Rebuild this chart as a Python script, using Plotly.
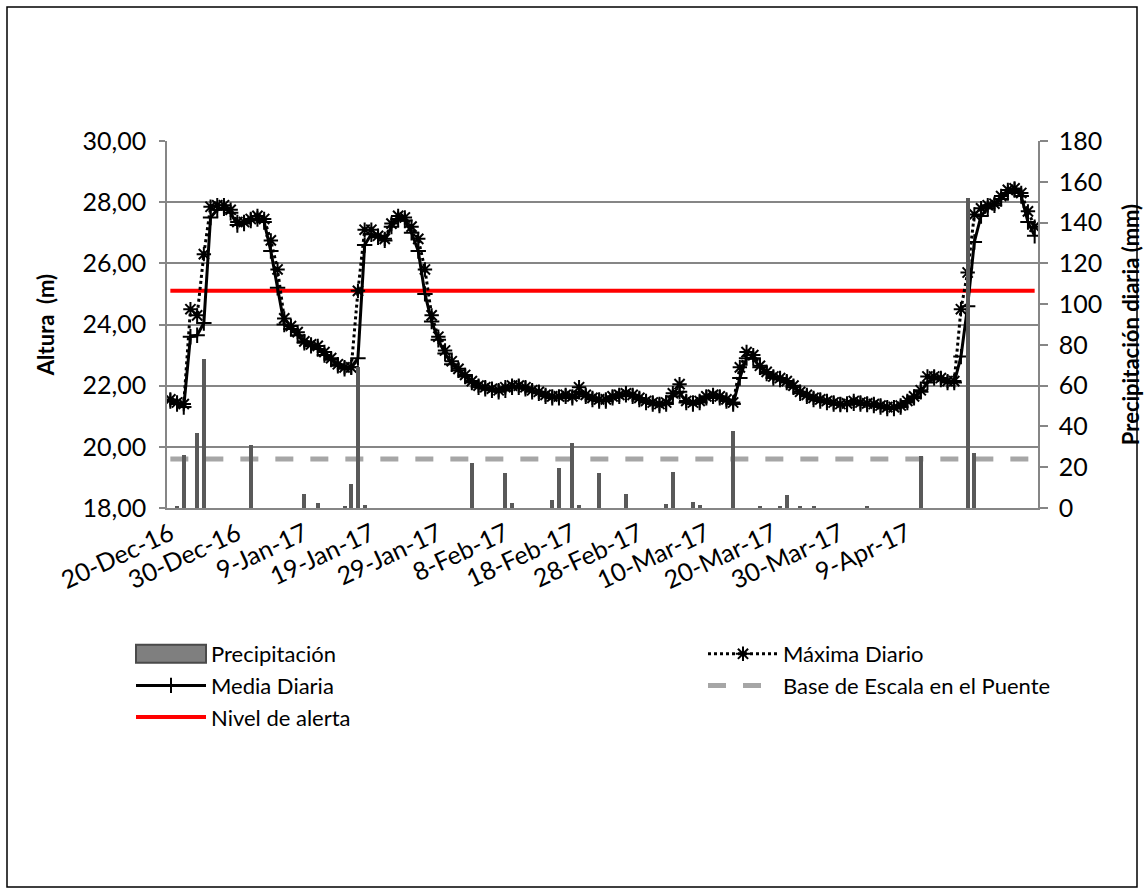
import pandas as pd
import plotly.graph_objects as go

# ---------------- data ----------------
start_date = "2016-12-20"
n_days = 130
dates = pd.date_range(start_date, periods=n_days, freq="D")

maxima_diario = [
    21.55, 21.45, 21.40, 24.50, 24.30, 26.30, 27.85, 27.90, 27.90, 27.75,
    27.35, 27.35, 27.45, 27.55, 27.45, 26.75, 25.80, 24.20, 23.95, 23.75,
    23.45, 23.35, 23.30, 23.10, 22.90, 22.70, 22.60, 22.60, 25.10, 27.10,
    27.10, 26.90, 26.80, 27.30, 27.55, 27.50, 27.20, 26.80, 25.80, 24.30,
    23.60, 23.15, 22.80, 22.55, 22.35, 22.15, 22.00, 21.95, 21.90, 21.85,
    21.95, 22.00, 22.00, 21.95, 21.85, 21.80, 21.70, 21.65, 21.65, 21.70,
    21.65, 21.95, 21.70, 21.60, 21.55, 21.55, 21.65, 21.70, 21.75, 21.70,
    21.60, 21.50, 21.45, 21.40, 21.45, 21.75, 22.05, 21.50, 21.45, 21.50,
    21.65, 21.70, 21.65, 21.55, 21.45, 22.60, 23.10, 23.00, 22.65, 22.45,
    22.30, 22.25, 22.15, 22.00, 21.80, 21.70, 21.60, 21.55, 21.50, 21.45,
    21.40, 21.42, 21.50, 21.45, 21.42, 21.40, 21.35, 21.30, 21.30, 21.35,
    21.50, 21.65, 21.85, 22.30, 22.30, 22.25, 22.15, 22.15, 24.50, 25.70,
    27.60, 27.80, 27.90, 27.95, 28.20, 28.40, 28.45, 28.30, 27.70, 27.20,
]

media_diaria = [
    21.50, 21.40, 21.30, 23.60, 23.65, 24.05, 27.50, 27.75, 27.80, 27.65,
    27.25, 27.30, 27.40, 27.45, 27.35, 26.40, 25.20, 24.00, 23.85, 23.65,
    23.40, 23.30, 23.20, 23.00, 22.85, 22.65, 22.55, 22.60, 22.90, 26.60,
    26.95, 26.85, 26.75, 27.20, 27.45, 27.40, 27.00, 26.40, 25.00, 24.10,
    23.50, 23.05, 22.70, 22.50, 22.30, 22.10, 21.95, 21.90, 21.85, 21.80,
    21.85, 21.95, 21.95, 21.90, 21.80, 21.75, 21.65, 21.60, 21.60, 21.65,
    21.60, 21.80, 21.65, 21.55, 21.50, 21.50, 21.60, 21.65, 21.70, 21.65,
    21.55, 21.45, 21.40, 21.35, 21.40, 21.65, 21.80, 21.45, 21.40, 21.45,
    21.60, 21.65, 21.60, 21.50, 21.40, 22.25, 22.90, 22.90, 22.60, 22.40,
    22.25, 22.20, 22.10, 21.95, 21.75, 21.65, 21.55, 21.50, 21.45, 21.40,
    21.38, 21.38, 21.42, 21.40, 21.38, 21.35, 21.30, 21.25, 21.25, 21.30,
    21.45, 21.60, 21.80, 22.10, 22.25, 22.20, 22.10, 22.10, 22.95, 24.60,
    26.70, 27.55, 27.80, 27.90, 28.10, 28.30, 28.40, 28.20, 27.35, 26.90,
]

precipitacion = [
    0, 1, 26, 0, 37, 73, 0, 0, 0, 0,
    0, 0, 31, 0, 0, 0, 0, 0, 0, 0,
    7, 0, 2.5, 0, 0, 0, 1, 12, 69, 1.5,
    0, 0, 0, 0, 0, 0, 0, 0, 0, 0,
    0, 0, 0, 0, 0, 22, 0, 0, 0, 0,
    17, 2.5, 0, 0, 0, 0, 0, 4, 19.6, 0,
    32, 1.5, 0, 0, 17, 0, 0, 0, 7, 0,
    0, 0, 0, 0, 2, 17.7, 0, 0, 3, 1.5,
    0, 0, 0, 0, 38, 0, 0, 0, 1, 0,
    0, 1, 6.5, 0, 1, 0, 1, 0, 0, 0,
    0, 0, 0, 0, 1, 0, 0, 0, 0, 0,
    0, 0, 25.5, 0, 0, 0, 0, 0, 0, 152,
    27, 0, 0, 0, 0, 0, 0, 0, 0, 0,
]

nivel_alerta = 25.1
base_escala = 19.6

tick_dates = ["2016-12-20", "2016-12-30", "2017-01-09", "2017-01-19", "2017-01-29",
              "2017-02-08", "2017-02-18", "2017-02-28", "2017-03-10", "2017-03-20",
              "2017-03-30", "2017-04-09"]
tick_labels = ["20-Dec-16", "30-Dec-16", "9-Jan-17", "19-Jan-17", "29-Jan-17",
               "8-Feb-17", "18-Feb-17", "28-Feb-17", "10-Mar-17", "20-Mar-17",
               "30-Mar-17", "9-Apr-17"]

# ---------------- figure ----------------
FONT = "Lato, 'Open Sans', sans-serif"
GRID = "#868686"
DAY_MS = 86400000
W, H = 1144, 888
L, T, R, B = 167, 141, 1038, 508   # plot area in page pixels
PW, PH = R - L, B - T

def px_x(p):
    return (p - L) / PW

def px_y(p):
    return (B - p) / PH

fig = go.Figure()

fig.add_trace(go.Scatter(
    x=[dates[0], dates[-1]], y=[base_escala, base_escala], mode="lines",
    name="Base de Escala en el Puente",
    line=dict(color="#A6A6A6", width=5, dash="18px,17px"),
    legend="legend2", legendrank=2, hoverinfo="skip"))

fig.add_trace(go.Scatter(
    x=[dates[0], dates[-1]], y=[nivel_alerta, nivel_alerta], mode="lines",
    name="Nivel de alerta",
    line=dict(color="#FF0000", width=4),
    legend="legend", legendrank=3))

fig.add_trace(go.Scatter(
    x=dates, y=media_diaria, mode="lines+markers", name="Media Diaria",
    line=dict(color="black", width=3),
    marker=dict(symbol="cross-thin", size=11, color="black",
                line=dict(width=2, color="black")),
    legend="legend", legendrank=2))

fig.add_trace(go.Scatter(
    x=dates, y=maxima_diario, mode="lines+markers", name="Máxima Diario",
    line=dict(color="black", width=3, dash="dot"),
    marker=dict(symbol="asterisk", size=12, color="black",
                line=dict(width=2, color="black")),
    legend="legend2", legendrank=1))

fig.add_trace(go.Bar(
    x=dates, y=precipitacion, name="Precipitación", yaxis="y2",
    marker=dict(color="#595959", line=dict(width=0)),
    width=0.6 * DAY_MS,
    legend="legend", legendrank=1))

fig.update_layout(
    width=W, height=H,
    margin=dict(l=L, r=W - R, t=T, b=H - B, pad=0, autoexpand=False),
    paper_bgcolor="white", plot_bgcolor="white",
    separators=",.",
    font=dict(family=FONT, color="black", size=22),
    showlegend=True,
    bargap=0,
    xaxis=dict(
        type="date", automargin=False,
        range=["2016-12-19 12:00", "2017-04-28 12:00"],
        tickvals=tick_dates, ticktext=tick_labels, tickangle=-25,
        tickfont=dict(size=25),
        showgrid=False, zeroline=False,
        showline=True, linecolor=GRID, linewidth=1.5,
        ticks="",
    ),
    yaxis=dict(
        range=[18, 30], dtick=2, tickformat=".2f", automargin=False,
        tickfont=dict(size=25),
        showgrid=True, gridcolor=GRID, gridwidth=1.5,
        zeroline=False,
        showline=True, linecolor=GRID, linewidth=1.5,
        ticks="outside", ticklen=6, tickcolor=GRID, tickwidth=1.5,
        ticklabelstandoff=8,
        title=dict(text="<b>Altura  (m)</b>", font=dict(size=22), standoff=22),
    ),
    yaxis2=dict(
        overlaying="y", side="right", automargin=False,
        range=[0, 180], dtick=20,
        tickfont=dict(size=25),
        showgrid=False, zeroline=False,
        showline=True, linecolor=GRID, linewidth=1.5,
        ticks="outside", ticklen=8, tickcolor=GRID, tickwidth=1.5,
        ticklabelstandoff=6,
        title=dict(text="<b>Precipitación diaria (mm)</b>", font=dict(size=22), standoff=27),
    ),
    legend=dict(
        x=px_x(131), y=px_y(633), xanchor="left", yanchor="top",
        orientation="v", bgcolor="rgba(0,0,0,0)",
        font=dict(size=22, family=FONT), itemwidth=70,
        traceorder="normal",
    ),
    legend2=dict(
        x=px_x(703), y=px_y(633), xanchor="left", yanchor="top",
        orientation="v", bgcolor="rgba(0,0,0,0)",
        font=dict(size=22, family=FONT), itemwidth=70,
        traceorder="normal",
    ),
    shapes=[dict(
        type="rect", xref="paper", yref="paper",
        x0=px_x(7), x1=px_x(1137), y0=px_y(887), y1=px_y(7),
        line=dict(color="black", width=1.5), fillcolor="rgba(0,0,0,0)",
        layer="below",
    )],
)

# page tweaks: no body margin; widen the bar legend swatch like the original
post = """
document.body.style.margin='0px';
try {
  var gd = document.getElementsByClassName('plotly-graph-div')[0];
  var pts = gd.querySelectorAll('.legend .traces');
  pts.forEach(function(tr){
    var t = tr.querySelector('text.legendtext');
    if (t && t.textContent === 'Precipitaci\\u00f3n') {
      var p = tr.querySelector('.legendpoints path');
      if (p) {
        p.setAttribute('d', 'M-35,9H35V-9H-35Z');
        p.style.stroke = '#4a4a4a';
        p.style.strokeWidth = '2px';
        p.style.fill = '#7f7f7f';
      }
    }
  });
} catch(e) {}
"""

fig.write_html("out.html", post_script=post,
               config={"displayModeBar": False})
